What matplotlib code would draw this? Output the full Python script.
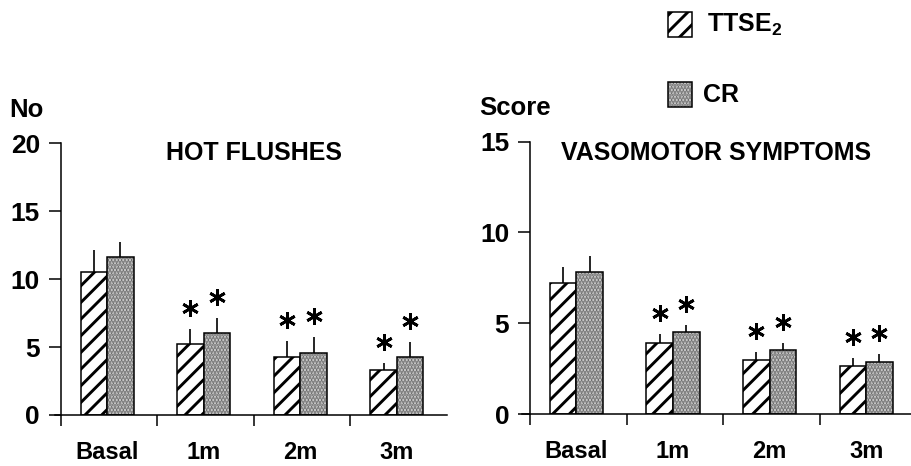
import numpy as np
import matplotlib
matplotlib.use('Agg')
import matplotlib.pyplot as plt
from matplotlib.patches import Rectangle
from matplotlib.transforms import offset_copy

plt.rcParams.update({
    'font.family': 'Liberation Sans',
    'font.weight': 'bold',
    'mathtext.fontset': 'custom',
    'mathtext.rm': 'Liberation Sans:bold',
    'mathtext.bf': 'Liberation Sans:bold',
    'hatch.linewidth': 2.1,
    'axes.linewidth': 1.1,
})

# ---- data ----
groups = ['Basal', '1m', '2m', '3m']
significant = [False, True, True, True]

# hot flushes (number)
hf_ttse = [10.5, 5.2, 4.3, 3.3]
hf_ttse_err = [1.65, 1.15, 1.15, 0.55]
hf_cr = [11.6, 6.0, 4.6, 4.3]
hf_cr_err = [1.1, 1.15, 1.15, 1.1]

# vasomotor symptoms (score)
vs_ttse = [7.2, 3.9, 3.0, 2.65]
vs_ttse_err = [0.9, 0.5, 0.42, 0.42]
vs_cr = [7.8, 4.5, 3.5, 2.85]
vs_cr_err = [0.9, 0.42, 0.42, 0.44]

STIPPLE_FACE = '#d8d8d8'
STIPPLE_DOTS = '#6e6e6e'
W = 0.275
C = 0.48

fig = plt.figure(figsize=(9.11, 4.66), dpi=100)


def draw_panel(ax, ttse, ttse_err, cr, cr_err, ymax, ystep):
    x = np.arange(len(groups))
    xt = x + C - W / 2
    xc = x + C + W / 2
    # TTSE2: diagonal hatch
    ax.bar(xt, ttse, W, facecolor='white', edgecolor='black',
           hatch='//', linewidth=1.1, zorder=2)
    # CR: stipple
    ax.bar(xc, cr, W, facecolor=STIPPLE_FACE, edgecolor=STIPPLE_DOTS,
           hatch='.....', linewidth=0, zorder=2)
    ax.bar(xc, cr, W, fill=False, edgecolor='black', linewidth=1.1, zorder=3)
    # upper error bars only
    ax.vlines(xt, ttse, np.array(ttse) + np.array(ttse_err), color='black', lw=1.2, zorder=1)
    ax.vlines(xc, cr, np.array(cr) + np.array(cr_err), color='black', lw=1.2, zorder=1)
    # asterisks
    tr = offset_copy(ax.transData, fig=fig, y=15, units='points')
    for i, s in enumerate(significant):
        if s:
            for xx, top in ((xt[i], ttse[i] + ttse_err[i]), (xc[i], cr[i] + cr_err[i])):
                ax.plot(xx, top, marker=(6, 2, 0), ms=12, mew=2.0,
                        color='black', transform=tr, clip_on=False)

    ax.set_ylim(0, ymax)
    ax.set_yticks(np.arange(0, ymax + 0.1, ystep))
    ax.spines['top'].set_visible(False)
    ax.spines['right'].set_visible(False)
    ax.spines['left'].set_position(('data', 0))
    ax.set_xticks(x)
    ax.set_xticklabels([])
    ax.set_xticks(x + C, minor=True)
    ax.set_xticklabels(groups, minor=True)
    ax.tick_params(axis='x', which='major', direction='out', length=8, width=1.1)
    ax.tick_params(axis='x', which='minor', length=0, pad=19, labelsize=17)
    ax.tick_params(axis='y', direction='out', length=9, width=1.1, pad=6, labelsize=19)
    for lab in ax.get_xticklabels(minor=True) + ax.get_yticklabels():
        lab.set_fontweight('bold')


# --- left panel: hot flushes ---
ax1 = fig.add_axes([55 / 911, 51 / 466, 392 / 911, 271.7 / 466])
ax1.set_xlim(-0.06, 4.0)
draw_panel(ax1, hf_ttse, hf_ttse_err, hf_cr, hf_cr_err, 20, 5)
fig.text(254 / 911, 1 - 153 / 466, 'HOT FLUSHES', ha='center', va='center',
         fontsize=18, fontweight='bold')
fig.text(9 / 911, 1 - 110 / 466, 'No', ha='left', va='center', fontsize=18.5, fontweight='bold')

# --- right panel: vasomotor symptoms ---
ax2 = fig.add_axes([521.8 / 911, 52 / 466, 388.8 / 911, 272.3 / 466])
ax2.set_xlim(-0.085, 3.94)
draw_panel(ax2, vs_ttse, vs_ttse_err, vs_cr, vs_cr_err, 15, 5)
fig.text(716 / 911, 1 - 153 / 466, 'VASOMOTOR SYMPTOMS', ha='center', va='center',
         fontsize=18, fontweight='bold')
fig.text(479 / 911, 1 - 108 / 466, 'Score', ha='left', va='center', fontsize=18.5, fontweight='bold')

# --- legend, drawn by hand ---
bw, bh = 24 / 911, 25 / 466
fig.add_artist(Rectangle((668 / 911, 1 - 37 / 466), bw, bh, transform=fig.transFigure,
                         facecolor='white', edgecolor='black', hatch='//', lw=1.1))
fig.add_artist(Rectangle((668 / 911, 1 - 107 / 466), bw, bh, transform=fig.transFigure,
                         facecolor=STIPPLE_FACE, edgecolor=STIPPLE_DOTS, hatch='.....', lw=0))
fig.add_artist(Rectangle((668 / 911, 1 - 107 / 466), bw, bh, transform=fig.transFigure,
                         fill=False, edgecolor='black', lw=1.1))
fig.text(707 / 911, 1 - 25 / 466, r'TTSE$_\mathbf{2}$', ha='left', va='center',
         fontsize=18, fontweight='bold')
fig.text(703 / 911, 1 - 95 / 466, 'CR', ha='left', va='center',
         fontsize=18, fontweight='bold')

fig.savefig('out.png', dpi=100)
